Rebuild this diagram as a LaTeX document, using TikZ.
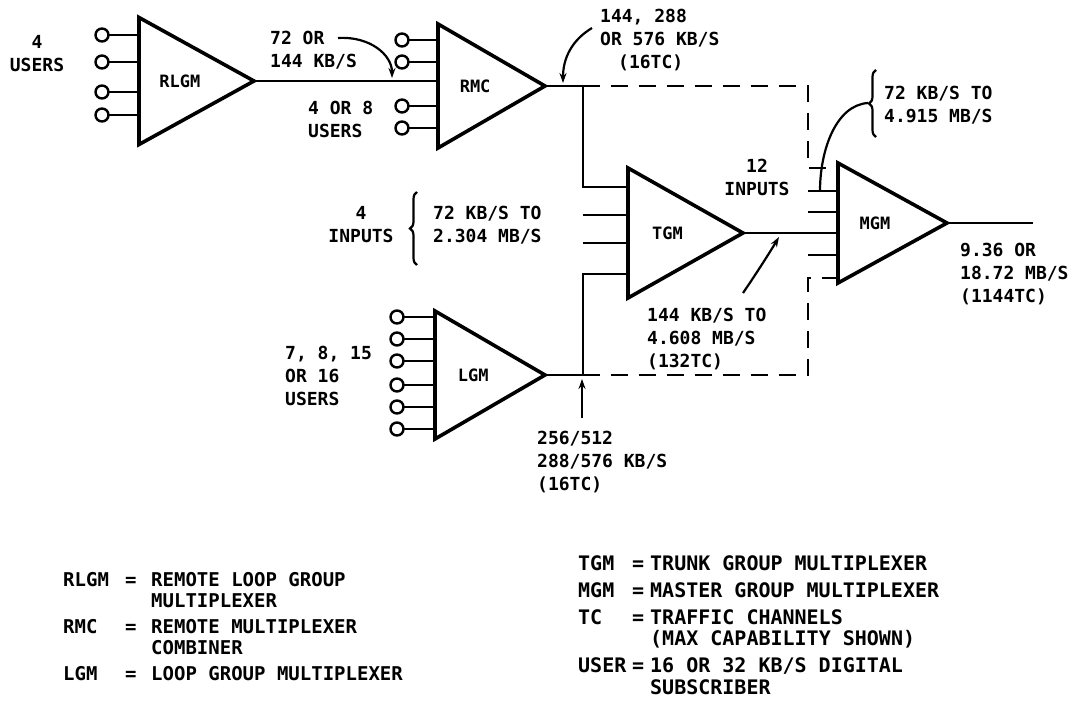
\documentclass[tikz,border=0pt]{standalone}
\usepackage{fontspec}
\newfontfamily\lettering{DejaVu Sans Mono}
\usetikzlibrary{positioning,arrows.meta,shapes.geometric,decorations.pathreplacing,calc}
\tikzset{
  mux/.style={isosceles triangle, isosceles triangle stretches, draw, line width=3.6pt,
    line join=miter, inner sep=0pt, outer sep=0pt, anchor=lower side,
    font=\lettering\bfseries\fontsize{17}{20}\selectfont},
  usr/.style={circle, draw, line width=2.4pt, minimum size=13pt, inner sep=0pt, outer sep=0pt},
  wire/.style={line width=2.8pt},
  dashwire/.style={line width=2.8pt, dash pattern=on 17pt off 11pt},
  pointer/.style={line width=2.2pt, -{Stealth[length=10pt, width=7pt]}},
  rate/.style={font=\lettering\bfseries\fontsize{18}{23}\selectfont, align=left, inner sep=0pt, anchor=north west},
  brc/.style={line width=2.2pt, decorate, decoration={brace, amplitude=7pt}},
  legend/.style={font=\lettering\bfseries\fontsize{19}{21}\selectfont, inner sep=0pt, anchor=north west},
}

\begin{document}
\begin{tikzpicture}[x=1pt, y=-1pt]
  \useasboundingbox (0,0) rectangle (1081,722);
  \node[mux, minimum width=127pt, minimum height=115pt] (rlgm) at (139,81) {RLGM};
  \node[mux, minimum width=124pt, minimum height=107pt] (rmc) at (438,86) {RMC};
  \node[mux, minimum width=130pt, minimum height=115pt] (tgm) at (628,233) {TGM};
  \node[mux, minimum width=120pt, minimum height=109pt] (mgm) at (838,223) {MGM};
  \node[mux, minimum width=128pt, minimum height=110pt] (lgm) at (435,375) {LGM};

  \foreach \n/\y in {1/35,2/62,3/92,4/115} {
    \node[usr] (rl\n) at (102,\y) {};
    \draw[wire] (rl\n) -- (rl\n -| rlgm.lower side);
  }
  \foreach \n/\y in {1/40,2/62,3/106,4/128} {
    \node[usr] (rm\n) at (402,\y) {};
    \draw[wire] (rm\n) -- (rm\n -| rmc.lower side);
  }
  \foreach \n/\y in {1/317,2/339,3/361,4/385,5/407,6/429} {
    \node[usr] (lg\n) at (397,\y) {};
    \draw[wire] (lg\n) -- (lg\n -| lgm.lower side);
  }

  \coordinate (jr) at (583,86);
  \coordinate (jl) at (583,375);
  \coordinate (bt) at (808,86);
  \coordinate (bb) at (808,375);
  \coordinate (tin1) at (628,187);
  \coordinate (tin2) at (628,215);
  \coordinate (tin3) at (628,243);
  \coordinate (tin4) at (628,274);
  \coordinate (min1) at (838,168);
  \coordinate (min2) at (838,191);
  \coordinate (min3) at (838,212);
  \coordinate (min5) at (838,255);
  \coordinate (min6) at (838,278);
  \coordinate (mout) at (1033,223);

  \draw[wire] (rlgm.apex) -- (rlgm.apex -| rmc.lower side);
  \draw[wire] (rmc.apex) -- (jr) |- (tin1);
  \draw[wire] (lgm.apex) -- (jl) |- (tin4);
  \draw[wire] (tin2 -| jr) -- (tin2);
  \draw[wire] (tin3 -| jr) -- (tin3);
  \draw[wire] (tgm.apex) -- (tgm.apex -| mgm.lower side);
  \draw[wire] (min2 -| bt) -- (min2);
  \draw[wire] (min3 -| bt) -- (min3);
  \draw[wire] (min5 -| bt) -- (min5);
  \draw[wire] (mgm.apex) -- (mout);
  \draw[dashwire] (jr) -- (bt) |- (min1);
  \draw[dashwire] (jl) -- (bb) |- (min6);

  \node[rate, align=center, anchor=north] (nusr) at (37,35) {4\\USERS};
  \node[rate] (r72) at (270,31) {72 OR\\144 KB/S};
  \node[rate] (nrm) at (308,101) {4 OR 8\\USERS};
  \node[rate] (r144) at (600,9) {144, 288\\OR 576 KB/S\\\quad(16TC)};
  \node[rate, align=center, anchor=north] (n12) at (757,159) {12\\INPUTS};
  \node[rate] (rmg) at (884,86) {72 KB/S TO\\4.915 MB/S};
  \node[rate, align=center, anchor=north] (n4) at (361,206) {4\\INPUTS};
  \node[rate] (rtg) at (433,206) {72 KB/S TO\\2.304 MB/S};
  \node[rate] (rtr) at (647,308) {144 KB/S TO\\4.608 MB/S\\(132TC)};
  \node[rate] (rout) at (960,243) {9.36 OR\\18.72 MB/S\\(1144TC)};
  \node[rate] (nlg) at (285,346) {7, 8, 15\\OR 16\\USERS};
  \node[rate] (rlg) at (537,431) {256/512\\288/576 KB/S\\(16TC)};

  \coordinate (p72) at (338,38);
  \coordinate (q72) at (392,78);
  \coordinate (p144) at (592,28);
  \coordinate (q144) at (563,83);
  \coordinate (ptr) at (743,293);
  \coordinate (qtr) at (779,237);
  \coordinate (plg) at (582,418);
  \coordinate (qlg) at (582,379);
  \coordinate (bmg) at (868,103);
  \draw[pointer] (p72) .. controls (370,36) and (392,55) .. (q72);
  \draw[pointer] (p144) .. controls (572,40) and (563,58) .. (q144);
  \draw[pointer] (ptr) .. controls (756,274) and (770,252) .. (qtr);
  \draw[pointer] (plg) -- (qlg);
  \draw[brc] (876,137) -- (876,70);
  \draw[brc] (417,265) -- (417,192);
  \draw[line width=2.2pt] (bmg) .. controls (836,105) and (820,150) .. (min2 -| 820,0);

  \node[legend] (keyl) at (63,572) {\begin{tabular}{@{}p{62pt}@{}p{26pt}@{}l@{}}
    RLGM & = & REMOTE LOOP GROUP\\
         &   & MULTIPLEXER\\[5pt]
    RMC  & = & REMOTE MULTIPLEXER\\
         &   & COMBINER\\[5pt]
    LGM  & = & LOOP GROUP MULTIPLEXER
  \end{tabular}};
  \node[legend, font=\lettering\bfseries\fontsize{20}{21}\selectfont] (keyr) at (578,555) {\begin{tabular}{@{}p{54pt}@{}p{18pt}@{}l@{}}
    TGM  & = & TRUNK GROUP MULTIPLEXER\\[6pt]
    MGM  & = & MASTER GROUP MULTIPLEXER\\[6pt]
    TC   & = & TRAFFIC CHANNELS\\
         &   & (MAX CAPABILITY SHOWN)\\[6pt]
    USER & = & 16 OR 32 KB/S DIGITAL\\
         &   & SUBSCRIBER
  \end{tabular}};
\end{tikzpicture}
\end{document}
